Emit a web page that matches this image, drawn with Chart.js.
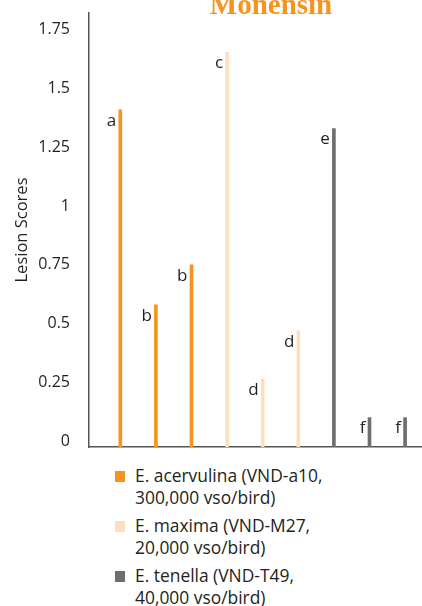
<!DOCTYPE html>
<html>
<head>
<meta charset="utf-8">
<script src="https://cdn.jsdelivr.net/npm/chart.js@4.4.1/dist/chart.umd.min.js"></script>
<style>
  html, body { margin: 0; padding: 0; background: #fff; }
  #wrap { position: relative; width: 422px; height: 606px; overflow: hidden; }
  #chart { position: absolute; left: 0; top: 0; }
  #legend { position: absolute; left: 115px; top: 464px; font-family: "Open Sans", sans-serif; font-size: 17.4px; color: #231f20; }
  .item { display: flex; align-items: flex-start; line-height: 22px; margin-bottom: 6px; }
  .sw { width: 10px; height: 11px; margin-top: 7px; margin-right: 10px; flex: none; }
</style>
</head>
<body>
<div id="wrap">
  <canvas id="chart" width="422" height="460"></canvas>
  <div id="legend"></div>
</div>
<script>
const SERIES = ["E. acervulina (VND-a10,\n300,000 vso/bird)", "E. maxima (VND-M27,\n20,000 vso/bird)", "E. tenella (VND-T49,\n40,000 vso/bird)"];
const COLORS = ["#F7941E", "#FDDFC0", "#6D6E71"];
// bar slot (1..9) for each series
const POS_ACERV = [1, 2, 3];
const POS_MAXIMA = [4, 5, 6];
const POS_TENELLA = [7, 8, 9];
const VAL_ACERV = [1.41, 0.58, 0.75];
const VAL_MAXIMA = [1.655, 0.265, 0.47];
const VAL_TENELLA = [1.33, 0.10, 0.10];
const LET_ACERV = ["a", "b", "b"];
const LET_MAXIMA = ["c", "d", "d"];
const LET_TENELLA = ["e", "f", "f"];
const Y_TICKS = [0, 0.25, 0.5, 0.75, 1, 1.25, 1.5, 1.75];

const positions = [POS_ACERV, POS_MAXIMA, POS_TENELLA];
const values = [VAL_ACERV, VAL_MAXIMA, VAL_TENELLA];
const letters = [LET_ACERV, LET_MAXIMA, LET_TENELLA];
const BASE = -0.025;

// letters to the left of each bar top
const letterPlugin = {
  id: "letters",
  afterDatasetsDraw(chart) {
    const c = chart.ctx;
    c.save();
    c.font = '17px "Open Sans", sans-serif';
    c.fillStyle = "#231f20";
    c.textAlign = "right";
    c.textBaseline = "middle";
    chart.data.datasets.forEach((ds, i) => {
      chart.getDatasetMeta(i).data.forEach((bar, j) => {
        c.fillText(letters[i][j], bar.x - 4, bar.y + 11);
      });
    });
    c.restore();
  }
};

const titlePlugin = {
  id: "topTitle",
  afterDraw(chart) {
    const c = chart.ctx;
    c.save();
    c.font = 'bold 29px "Liberation Serif", serif';
    c.fillStyle = "#F7941E";
    c.textAlign = "center";
    c.textBaseline = "alphabetic";
    c.fillText("Monensin", 271, 14);
    c.restore();
  }
};

const chart = new Chart(document.getElementById("chart"), {
  type: "bar",
  data: {
    datasets: SERIES.map((s, i) => ({
      label: s,
      data: positions[i].map((x, j) => ({ x: x, y: values[i][j] })),
      backgroundColor: COLORS[i],
      barThickness: 3,
      base: BASE,
      grouped: false,
    }))
  },
  options: {
    responsive: false,
    animation: false,
    layout: { autoPadding: false, padding: { top: 13, right: 0, bottom: 0, left: 0 } },
    plugins: { legend: { display: false }, tooltip: { enabled: false } },
    scales: {
      x: {
        type: "linear",
        offset: false,
        min: 0.121,
        max: 9.475,
        grid: { display: false, drawTicks: false },
        ticks: { display: false },
        border: { display: true, color: "#555", width: 1.5 },
        afterFit: s => { s.height = 13; },
      },
      y: {
        min: BASE,
        max: 1.822,
        afterBuildTicks: s => { s.ticks = Y_TICKS.map(v => ({ value: v })); },
        grid: { display: false, drawTicks: false },
        border: { display: true, color: "#555", width: 1.5 },
        ticks: {
          padding: 19,
          color: "#231f20",
          font: { family: "Open Sans", size: 16 },
          callback: v => String(v),
        },
        title: {
          display: true,
          text: "Lesion Scores",
          color: "#231f20",
          font: { family: "Open Sans", size: 16.5 },
          padding: { top: 12, bottom: 0 },
        },
        afterFit: s => { s.width = 89; s.paddingTop = 0; s.paddingBottom = 0; },
      }
    }
  },
  plugins: [letterPlugin, titlePlugin]
});

document.getElementById("legend").innerHTML = SERIES.map((s, i) =>
  `<div class="item"><span class="sw" style="background:${COLORS[i]}"></span><span>${s.replace("\n", "<br>")}</span></div>`
).join("");
</script>
</body>
</html>
